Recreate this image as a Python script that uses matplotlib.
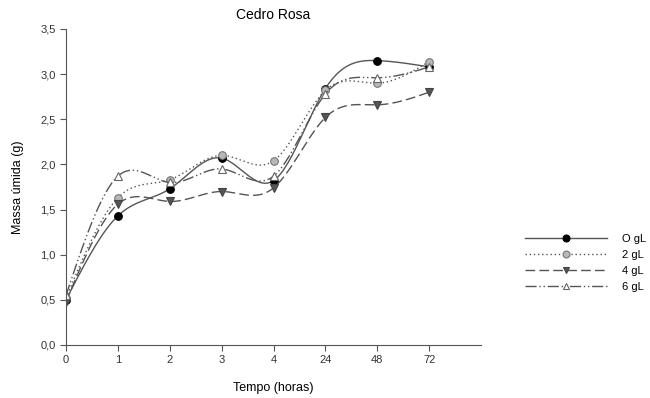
import numpy as np
import matplotlib.pyplot as plt

plt.rcParams['font.family'] = ['Liberation Sans', 'DejaVu Sans']

# time points (categorical) and measured values
tempo = ["0", "1", "2", "3", "4", "24", "48", "72"]
g0 = [0.50, 1.43, 1.73, 2.07, 1.82, 2.84, 3.15, 3.08]
g2 = [0.52, 1.63, 1.83, 2.10, 2.04, 2.82, 2.90, 3.14]
g4 = [0.48, 1.56, 1.59, 1.70, 1.74, 2.52, 2.66, 2.80]
g6 = [0.55, 1.87, 1.80, 1.95, 1.87, 2.78, 2.96, 3.08]
labels = ["O gL", "2 gL", "4 gL", "6 gL"]


def spline(x, y, n=200):
    # natural cubic spline through the points, for the smoothed line
    x = np.asarray(x, float)
    y = np.asarray(y, float)
    k = len(x)
    h = np.diff(x)
    A = np.zeros((k, k))
    b = np.zeros(k)
    A[0, 0] = A[-1, -1] = 1
    for i in range(1, k - 1):
        A[i, i - 1] = h[i - 1]
        A[i, i] = 2 * (h[i - 1] + h[i])
        A[i, i + 1] = h[i]
        b[i] = 6 * ((y[i + 1] - y[i]) / h[i] - (y[i] - y[i - 1]) / h[i - 1])
    m = np.linalg.solve(A, b)
    xs = np.linspace(x[0], x[-1], n)
    j = np.clip(np.searchsorted(x, xs) - 1, 0, k - 2)
    t = xs - x[j]
    hj = h[j]
    a = (m[j + 1] - m[j]) / (6 * hj)
    bb = m[j] / 2
    c = (y[j + 1] - y[j]) / hj - hj * (2 * m[j] + m[j + 1]) / 6
    ys = y[j] + c * t + bb * t ** 2 + a * t ** 3
    return xs, ys


fig = plt.figure(figsize=(6.5, 3.98), dpi=100)
ax = fig.add_axes([66 / 650, 53 / 398, 415 / 650, 316 / 398])

x = np.arange(len(tempo))
styles = [
    dict(ls='-', marker='o', mfc='black', mec='black'),
    dict(ls=(0, (1, 2)), marker='o', mfc='#b8b8b8', mec='#777777'),
    dict(ls=(0, (7, 3)), marker='v', mfc='#555555', mec='#444444'),
    dict(ls=(0, (8, 2, 1, 2, 1, 2)), marker='^', mfc='white', mec='#666666'),
]
lc = '#555555'
for vals, st, lab in zip([g0, g2, g4, g6], styles, labels):
    xs, ys = spline(x, vals)
    ax.plot(xs, ys, color=lc, lw=1, ls=st['ls'])
    ax.plot(x, vals, ls='none', marker=st['marker'], mfc=st['mfc'],
            mec=st['mec'], ms=5.5, mew=0.8)
    ax.plot([], [], color=lc, lw=1, ls=st['ls'], marker=st['marker'],
            mfc=st['mfc'], mec=st['mec'], ms=5, mew=0.8, label=lab)

ax.set_xlim(0, 8)
ax.set_ylim(0, 3.5)
ax.set_xticks(x)
ax.set_xticklabels(tempo)
yt = np.arange(0, 3.51, 0.5)
ax.set_yticks(yt)
ax.set_yticklabels([f"{v:.1f}".replace('.', ',') for v in yt])
ax.tick_params(direction='out', length=4, labelsize=8, labelcolor='#333333',
               color='#555555')
for s in ['top', 'right']:
    ax.spines[s].set_visible(False)
for s in ['left', 'bottom']:
    ax.spines[s].set_color('#555555')
    ax.spines[s].set_linewidth(0.8)

ax.set_title("Cedro Rosa", fontsize=10, pad=7)
ax.set_xlabel("Tempo (horas)", fontsize=9, labelpad=12)
ax.set_ylabel("Massa úmida (g)", fontsize=9, labelpad=12)

fig.legend(loc='center left', bbox_to_anchor=(515 / 650, 1 - 263 / 398),
           frameon=False, fontsize=8, handlelength=7.4, labelspacing=0.55,
           handletextpad=1.3)

plt.savefig("out.png", dpi=100)
